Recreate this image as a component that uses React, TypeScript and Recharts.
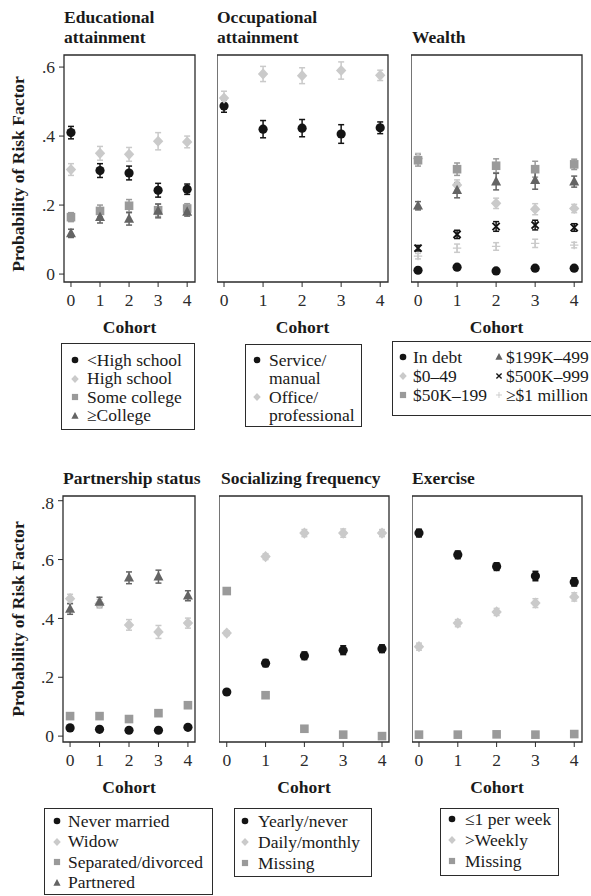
import { ErrorBar, ReferenceArea, Scatter, ScatterChart, XAxis, YAxis } from "recharts";

const COHORTS = [0, 1, 2, 3, 4];
const TOP_Y_TICKS = [0, 0.2, 0.4, 0.6];
const BOTTOM_Y_TICKS = [0, 0.2, 0.4, 0.6, 0.8];

// Educational attainment
const ltHighSchool = [0.41, 0.3, 0.293, 0.243, 0.246];
const ltHighSchoolErr = [0.018, 0.02, 0.02, 0.02, 0.015];
const highSchool = [0.303, 0.35, 0.347, 0.385, 0.383];
const highSchoolErr = [0.017, 0.02, 0.02, 0.025, 0.017];
const someCollege = [0.165, 0.183, 0.198, 0.185, 0.19];
const someCollegeErr = [0.013, 0.017, 0.018, 0.018, 0.014];
const college = [0.118, 0.165, 0.16, 0.183, 0.18];
const collegeErr = [0.012, 0.017, 0.018, 0.02, 0.012];

// Occupational attainment
const serviceManual = [0.487, 0.42, 0.423, 0.406, 0.424];
const serviceManualErr = [0.018, 0.025, 0.025, 0.027, 0.017];
const officeProf = [0.51, 0.58, 0.575, 0.59, 0.576];
const officeProfErr = [0.02, 0.022, 0.023, 0.025, 0.015];

// Wealth
const inDebt = [0.011, 0.02, 0.009, 0.017, 0.017];
const inDebtErr = [0.003, 0.004, 0.003, 0.004, 0.003];
const w0to49 = [0.335, 0.258, 0.205, 0.188, 0.19];
const w0to49Err = [0.015, 0.015, 0.015, 0.016, 0.012];
const w50to199 = [0.33, 0.304, 0.314, 0.304, 0.318];
const w50to199Err = [0.017, 0.018, 0.02, 0.023, 0.015];
const w199to499 = [0.198, 0.243, 0.268, 0.272, 0.268];
const w199to499Err = [0.012, 0.022, 0.024, 0.026, 0.016];
const w500to999 = [0.075, 0.115, 0.138, 0.142, 0.135];
const w500to999Err = [0.008, 0.012, 0.014, 0.014, 0.011];
const w1million = [0.052, 0.075, 0.08, 0.089, 0.084];
const w1millionErr = [0.008, 0.012, 0.011, 0.012, 0.008];

// Partnership status
const neverMarried = [0.028, 0.023, 0.02, 0.02, 0.03];
const neverMarriedErr = [0.004, 0.004, 0.004, 0.004, 0.005];
const widow = [0.467, 0.45, 0.378, 0.354, 0.384];
const widowErr = [0.015, 0.015, 0.018, 0.022, 0.017];
const separated = [0.068, 0.068, 0.058, 0.078, 0.105];
const separatedErr = [0.005, 0.005, 0.006, 0.01, 0.01];
const partnered = [0.432, 0.456, 0.538, 0.542, 0.477];
const partneredErr = [0.018, 0.016, 0.02, 0.022, 0.017];

// Socializing frequency
const yearlyNever = [0.15, 0.248, 0.273, 0.292, 0.297];
const yearlyNeverErr = [0.006, 0.012, 0.013, 0.015, 0.013];
const dailyMonthly = [0.35, 0.61, 0.69, 0.69, 0.69];
const dailyMonthlyErr = [0.008, 0.01, 0.012, 0.014, 0.012];
const socialMissing = [0.493, 0.139, 0.025, 0.005, 0.0];
const socialMissingErr = [0.008, 0.005, 0.004, 0.002, 0.002];

// Exercise
const onceOrLess = [0.69, 0.616, 0.576, 0.544, 0.524];
const onceOrLessErr = [0.013, 0.013, 0.013, 0.016, 0.014];
const moreWeekly = [0.304, 0.384, 0.422, 0.452, 0.473];
const moreWeeklyErr = [0.012, 0.012, 0.012, 0.015, 0.014];
const exerciseMissing = [0.005, 0.005, 0.006, 0.005, 0.007];
const exerciseMissingErr = [0.002, 0.002, 0.002, 0.002, 0.002];

const INK = "#2b2b2b";
const FONT = "Liberation Serif, Times New Roman, Times, DejaVu Serif, serif";
const FS = 17.5;

const BLACK = "#141414";
const LIGHT = "#cacaca";
const MID = "#9a9a9a";
const DARK = "#646464";

type Kind = "circle" | "diamond" | "square" | "triangle" | "x" | "plus";

interface Series {
  name: string;
  kind: Kind;
  color: string;
  values: number[];
  errs: number[];
}

function Mark({ kind, color, cx, cy, s = 1 }: { kind: Kind; color: string; cx: number; cy: number; s?: number }) {
  if (cx == null || cy == null) return <g />;
  switch (kind) {
    case "circle":
      return <circle cx={cx} cy={cy} r={4.6 * s} fill={color} />;
    case "diamond": {
      const w = 5.2 * s, h = 5.6 * s;
      return <path d={`M${cx},${cy - h}L${cx + w},${cy}L${cx},${cy + h}L${cx - w},${cy}Z`} fill={color} />;
    }
    case "square": {
      const h = 4.3 * s;
      return <rect x={cx - h} y={cy - h} width={2 * h} height={2 * h} fill={color} />;
    }
    case "triangle": {
      const w = 5 * s;
      return <path d={`M${cx},${cy - 5.6 * s}L${cx + w},${cy + 3.8 * s}L${cx - w},${cy + 3.8 * s}Z`} fill={color} />;
    }
    case "x": {
      const h = 3.6 * s;
      return (
        <path
          d={`M${cx - h},${cy - h}L${cx + h},${cy + h}M${cx + h},${cy - h}L${cx - h},${cy + h}`}
          stroke={color}
          strokeWidth={1.9 * s}
        />
      );
    }
    case "plus": {
      const h = 4.2 * s;
      return (
        <path d={`M${cx - h},${cy}L${cx + h},${cy}M${cx},${cy - h}L${cx},${cy + h}`} stroke={color} strokeWidth={1.3 * s} />
      );
    }
  }
  return <g />;
}

const EDUCATION: Series[] = [
  { name: "<High school", kind: "circle", color: BLACK, values: ltHighSchool, errs: ltHighSchoolErr },
  { name: "High school", kind: "diamond", color: LIGHT, values: highSchool, errs: highSchoolErr },
  { name: "Some college", kind: "square", color: MID, values: someCollege, errs: someCollegeErr },
  { name: "≥College", kind: "triangle", color: DARK, values: college, errs: collegeErr },
];

const OCCUPATION: Series[] = [
  { name: "Service/manual", kind: "circle", color: BLACK, values: serviceManual, errs: serviceManualErr },
  { name: "Office/professional", kind: "diamond", color: LIGHT, values: officeProf, errs: officeProfErr },
];

const WEALTH: Series[] = [
  { name: "In debt", kind: "circle", color: BLACK, values: inDebt, errs: inDebtErr },
  { name: "$0–49", kind: "diamond", color: LIGHT, values: w0to49, errs: w0to49Err },
  { name: "$50K–199", kind: "square", color: MID, values: w50to199, errs: w50to199Err },
  { name: "$199K–499", kind: "triangle", color: DARK, values: w199to499, errs: w199to499Err },
  { name: "$500K–999", kind: "x", color: BLACK, values: w500to999, errs: w500to999Err },
  { name: "≥$1 million", kind: "plus", color: LIGHT, values: w1million, errs: w1millionErr },
];

const PARTNERSHIP: Series[] = [
  { name: "Never married", kind: "circle", color: BLACK, values: neverMarried, errs: neverMarriedErr },
  { name: "Widow", kind: "diamond", color: LIGHT, values: widow, errs: widowErr },
  { name: "Separated/divorced", kind: "square", color: MID, values: separated, errs: separatedErr },
  { name: "Partnered", kind: "triangle", color: DARK, values: partnered, errs: partneredErr },
];

const SOCIALIZING: Series[] = [
  { name: "Yearly/never", kind: "circle", color: BLACK, values: yearlyNever, errs: yearlyNeverErr },
  { name: "Daily/monthly", kind: "diamond", color: LIGHT, values: dailyMonthly, errs: dailyMonthlyErr },
  { name: "Missing", kind: "square", color: MID, values: socialMissing, errs: socialMissingErr },
];

const EXERCISE: Series[] = [
  { name: "≤1 per week", kind: "circle", color: BLACK, values: onceOrLess, errs: onceOrLessErr },
  { name: ">Weekly", kind: "diamond", color: LIGHT, values: moreWeekly, errs: moreWeeklyErr },
  { name: "Missing", kind: "square", color: MID, values: exerciseMissing, errs: exerciseMissingErr },
];

const fmtProb = (v: number) => (v === 0 ? "0" : `.${Math.round(v * 10)}`);

interface Box {
  left: number;
  right: number;
  top: number;
  bottom: number;
}

function Panel({
  box,
  xDomain,
  yDomain,
  yTicks,
  showY,
  series,
}: {
  box: Box;
  xDomain: [number, number];
  yDomain: [number, number];
  yTicks: number[];
  showY: boolean;
  series: Series[];
}) {
  const yw = showY ? 64 : 0;
  const mt = 4;
  const mr = 4;
  const xh = 62;
  const W = box.right - box.left + yw + mr;
  const H = box.bottom - box.top + mt + xh;
  const textStyle = { fontSize: FS, fontFamily: FONT, fill: INK };
  return (
    <div style={{ position: "absolute", left: box.left - yw, top: box.top - mt }}>
      <ScatterChart width={W} height={H} margin={{ top: mt, right: mr, bottom: 0, left: 0 }}>
        <XAxis
          type="number"
          dataKey="x"
          domain={xDomain}
          ticks={COHORTS}
          allowDataOverflow
          axisLine={false}
          tickLine={{ stroke: INK }}
          tickSize={5}
          tickMargin={7}
          height={xh}
          tick={textStyle}
          label={{
            value: "Cohort",
            position: "insideBottom",
            offset: 11,
            fontSize: FS,
            fontFamily: FONT,
            fontWeight: "bold",
            fill: "#1a1a1a",
          }}
        />
        <YAxis
          type="number"
          dataKey="y"
          domain={yDomain}
          ticks={yTicks}
          allowDataOverflow
          hide={!showY}
          width={yw}
          axisLine={false}
          tickLine={{ stroke: INK }}
          tickSize={5}
          tickMargin={4}
          tick={textStyle}
          tickFormatter={fmtProb}
        />
        <ReferenceArea
          x1={xDomain[0]}
          x2={xDomain[1]}
          y1={yDomain[0]}
          y2={yDomain[1]}
          fill="none"
          fillOpacity={0}
          stroke={INK}
          strokeWidth={1.3}
          ifOverflow="visible"
        />
        {series.map((s) => (
          <Scatter
            key={s.name}
            name={s.name}
            data={COHORTS.map((x, i) => ({ x, y: s.values[i], err: s.errs[i] }))}
            isAnimationActive={false}
            shape={(p: any) => <Mark kind={s.kind} color={s.color} cx={p.cx} cy={p.cy} />}
          >
            <ErrorBar dataKey="err" direction="y" width={3} stroke={s.color} strokeWidth={1.5} />
          </Scatter>
        ))}
      </ScatterChart>
    </div>
  );
}

interface LegendItem {
  kind?: Kind;
  color?: string;
  label: string;
}

interface LegendCol {
  markerX: number;
  textX: number;
  items: LegendItem[];
}

function LegendBox({
  left,
  top,
  width,
  height,
  firstY,
  lineH,
  cols,
}: {
  left: number;
  top: number;
  width: number;
  height: number;
  firstY: number;
  lineH: number;
  cols: LegendCol[];
}) {
  return (
    <div
      style={{
        position: "absolute",
        left,
        top,
        width,
        height,
        border: `1px solid ${INK}`,
        boxSizing: "border-box",
        background: "#fff",
      }}
    >
      {cols.map((c, ci) =>
        c.items.map((it, i) => {
          const cy = firstY + i * lineH;
          return (
            <div key={`${ci}-${i}`}>
              {it.kind && (
                <svg
                  width={12}
                  height={12}
                  style={{ position: "absolute", left: c.markerX - 7, top: cy - 7 }}
                >
                  <Mark kind={it.kind} color={it.color || BLACK} cx={6} cy={6} s={0.72} />
                </svg>
              )}
              <div
                style={{
                  position: "absolute",
                  left: c.textX - 1,
                  top: cy - lineH / 2 - 1,
                  height: lineH,
                  lineHeight: `${lineH}px`,
                  fontSize: FS,
                  fontFamily: FONT,
                  color: "#1a1a1a",
                  whiteSpace: "nowrap",
                }}
              >
                {it.label}
              </div>
            </div>
          );
        })
      )}
    </div>
  );
}

function Title({ left, top, lines }: { left: number; top: number; lines: string[] }) {
  return (
    <div
      style={{
        position: "absolute",
        left,
        top,
        fontFamily: FONT,
        fontWeight: "bold",
        fontSize: FS,
        lineHeight: "20px",
        color: "#1a1a1a",
        whiteSpace: "nowrap",
      }}
    >
      {lines.map((l) => (
        <div key={l}>{l}</div>
      ))}
    </div>
  );
}

function YTitle({ cx, cy }: { cx: number; cy: number }) {
  return (
    <div
      style={{
        position: "absolute",
        left: cx,
        top: cy,
        transform: "translate(-50%, -50%) rotate(-90deg)",
        fontFamily: FONT,
        fontWeight: "bold",
        fontSize: FS,
        color: "#1a1a1a",
        whiteSpace: "nowrap",
        lineHeight: "20px",
      }}
    >
      Probability of Risk Factor
    </div>
  );
}

const items = (list: Series[]): LegendItem[] => list.map((s) => ({ kind: s.kind, color: s.color, label: s.name }));

export default function App() {
  const topY: [number, number] = [-0.023, 0.635];
  const botY: [number, number] = [-0.02, 0.816];
  return (
    <div
      style={{
        position: "absolute",
        left: 0,
        top: 0,
        width: 591,
        height: 896,
        overflow: "hidden",
        background: "#fff",
        fontFamily: FONT,
      }}
    >
      <Title left={64} top={7} lines={["Educational", "attainment"]} />
      <Title left={217} top={7} lines={["Occupational", "attainment"]} />
      <Title left={412} top={27} lines={["Wealth"]} />
      <Title left={63} top={468} lines={["Partnership status"]} />
      <Title left={221} top={468} lines={["Socializing frequency"]} />
      <Title left={412} top={468} lines={["Exercise"]} />

      <YTitle cx={18} cy={174} />
      <YTitle cx={18} cy={619} />

      <Panel box={{ left: 64, right: 195, top: 55, bottom: 282 }} xDomain={[-0.24, 4.27]} yDomain={topY} yTicks={TOP_Y_TICKS} showY series={EDUCATION} />
      <Panel box={{ left: 217, right: 388, top: 55, bottom: 282 }} xDomain={[-0.18, 4.2]} yDomain={topY} yTicks={TOP_Y_TICKS} showY={false} series={OCCUPATION} />
      <Panel box={{ left: 411, right: 582, top: 55, bottom: 282 }} xDomain={[-0.18, 4.2]} yDomain={topY} yTicks={TOP_Y_TICKS} showY={false} series={WEALTH} />
      <Panel box={{ left: 63, right: 195, top: 496, bottom: 742 }} xDomain={[-0.24, 4.24]} yDomain={botY} yTicks={BOTTOM_Y_TICKS} showY series={PARTNERSHIP} />
      <Panel box={{ left: 219, right: 389, top: 496, bottom: 742 }} xDomain={[-0.2, 4.18]} yDomain={botY} yTicks={BOTTOM_Y_TICKS} showY={false} series={SOCIALIZING} />
      <Panel box={{ left: 412, right: 582, top: 496, bottom: 742 }} xDomain={[-0.18, 4.2]} yDomain={botY} yTicks={BOTTOM_Y_TICKS} showY={false} series={EXERCISE} />

      <LegendBox left={61} top={343} width={134} height={87} firstY={17} lineH={18.5} cols={[{ markerX: 14, textX: 26, items: items(EDUCATION) }]} />
      <LegendBox
        left={245}
        top={344}
        width={117}
        height={83}
        firstY={16}
        lineH={18.5}
        cols={[
          {
            markerX: 12,
            textX: 24,
            items: [
              { kind: "circle", color: BLACK, label: "Service/" },
              { label: "manual" },
              { kind: "diamond", color: LIGHT, label: "Office/" },
              { label: "professional" },
            ],
          },
        ]}
      />
      <LegendBox
        left={392}
        top={341}
        width={215}
        height={75}
        firstY={16}
        lineH={19}
        cols={[
          { markerX: 11, textX: 21, items: items(WEALTH.slice(0, 3)) },
          { markerX: 107, textX: 114, items: items(WEALTH.slice(3)) },
        ]}
      />
      <LegendBox left={44} top={808} width={169} height={87} firstY={13} lineH={20.5} cols={[{ markerX: 13, textX: 24, items: items(PARTNERSHIP) }]} />
      <LegendBox left={234} top={808} width={138} height={69} firstY={13} lineH={21} cols={[{ markerX: 11, textX: 24, items: items(SOCIALIZING) }]} />
      <LegendBox left={440} top={808} width={119} height={68} firstY={11} lineH={21} cols={[{ markerX: 12, textX: 25, items: items(EXERCISE) }]} />
    </div>
  );
}
